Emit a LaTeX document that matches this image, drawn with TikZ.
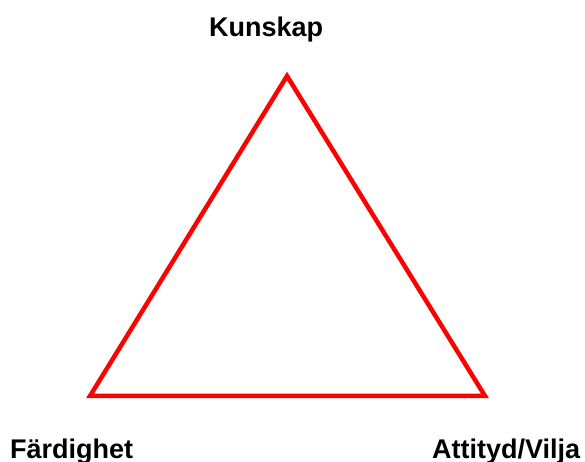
\documentclass[tikz,border=0pt]{standalone}
\usepackage{fontspec}
\setmainfont{Liberation Sans}
\usepackage{xcolor}
\usetikzlibrary{positioning,calc}
\definecolor{Edge}{HTML}{FF0000}

\begin{document}
\begin{tikzpicture}[x=1pt, y=1pt, every node/.style={font=\bfseries\fontsize{27}{30}\selectfont, inner sep=0pt}, lbl/.style={anchor=base west}, side/.style={draw=Edge, line width=4.5pt, line join=miter}]
\useasboundingbox (0,0) rectangle (585,462);
\coordinate (top) at (287,386);
\coordinate (left) at (90,66);
\coordinate (right) at (485,66);
\node[lbl] (kunskap) at (209,425) {Kunskap};
\node[lbl] (fardighet) at (10,3) {Färdighet};
\node[lbl] (attityd) at (432,3) {Attityd/Vilja};
\draw[side] (top) -- (left) -- (right) -- cycle;
\end{tikzpicture}
\end{document}
